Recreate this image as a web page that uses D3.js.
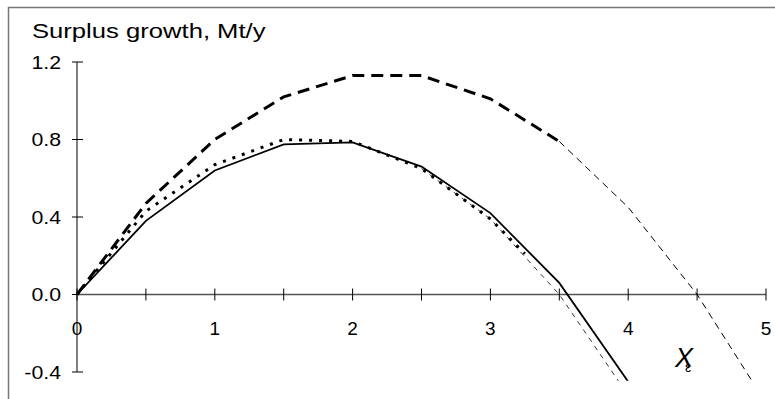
<!DOCTYPE html>
<html>
<head>
<meta charset="utf-8">
<script src="https://cdn.jsdelivr.net/npm/d3@7"></script>
<style>
  body { margin: 0; background: #fff; }
  text { font-family: Arial, "Liberation Sans", sans-serif; fill: #000; }
</style>
</head>
<body>
<div class="chart"></div>
<script>
// data
var xTicks = [0, 1, 2, 3, 4, 5];
var yTicks = [-0.4, 0.0, 0.4, 0.8, 1.2];

var solidX = [0, 0.5, 1, 1.5, 2, 2.5, 3, 3.5, 4];
var solidY = [0, 0.38, 0.64, 0.775, 0.785, 0.66, 0.42, 0.06, -0.45];

var dottedX = [0, 0.5, 1, 1.5, 2, 2.5, 3, 3.25];
var dottedY = [0, 0.43, 0.67, 0.80, 0.79, 0.65, 0.39, 0.21];

var lowTailX = [2.5, 3, 3.5, 4];
var lowTailY = [0.65, 0.39, 0.0, -0.52];

var upperX = [0, 0.5, 1, 1.5, 2, 2.5, 3, 3.5];
var upperY = [0, 0.47, 0.8, 1.02, 1.13, 1.13, 1.01, 0.79];

var upTailX = [3.5, 4, 4.5, 5];
var upTailY = [0.79, 0.45, 0.0, -0.56];

// dimensions
var W = 775, H = 399;
var x = d3.scaleLinear().domain([0, 5]).range([77, 766]);
var y = d3.scaleLinear().domain([-0.4, 1.2]).range([372, 62]);

// the original text is a bit wider than Arial
function stretch(sel, k) {
  sel.each(function() {
    var w = this.getComputedTextLength();
    d3.select(this)
      .attr("textLength", w * k)
      .attr("lengthAdjust", "spacingAndGlyphs");
  });
}

var svg = d3.select(".chart").append("svg")
  .attr("width", W)
  .attr("height", H);

// frame (only top and left visible)
svg.append("path")
  .attr("d", "M8.5," + H + "V7.5H" + W)
  .attr("fill", "none")
  .attr("stroke", "#777")
  .attr("stroke-width", 1.5);

// title
svg.append("text")
  .attr("x", 32)
  .attr("y", 38)
  .style("font-size", "21px")
  .text("Surplus growth, Mt/y")
  .call(stretch, 1.22);

// y axis
var yAxis = svg.append("g").attr("transform", "translate(" + x(0) + ",0)");
yAxis.append("line")
  .attr("y1", y(1.2)).attr("y2", y(-0.4))
  .attr("stroke", "#000");
yAxis.selectAll(".yt").data(yTicks).enter().append("line")
  .attr("x1", -5).attr("x2", 6)
  .attr("y1", function(d) { return y(d); })
  .attr("y2", function(d) { return y(d); })
  .attr("stroke", "#000");
yAxis.selectAll(".yl").data(yTicks).enter().append("text")
  .attr("x", -16)
  .attr("y", function(d) { return y(d); })
  .attr("dy", "0.36em")
  .attr("text-anchor", "end")
  .style("font-size", "19px")
  .text(function(d) { return d.toFixed(1); })
  .call(stretch, 1.12);

// x axis
var xMinor = d3.range(0, 5.01, 0.5);
var xAxis = svg.append("g").attr("transform", "translate(0," + y(0) + ")");
xAxis.append("line")
  .attr("x1", x(0)).attr("x2", x(5))
  .attr("stroke", "#555")
  .attr("stroke-width", 1.3);
xAxis.selectAll(".xt").data(xMinor).enter().append("line")
  .attr("x1", function(d) { return x(d); })
  .attr("x2", function(d) { return x(d); })
  .attr("y1", -6).attr("y2", 6)
  .attr("stroke", "#000");
xAxis.selectAll(".xl").data(xTicks).enter().append("text")
  .attr("x", function(d) { return x(d); })
  .attr("y", 40)
  .attr("text-anchor", "middle")
  .style("font-size", "19px")
  .text(function(d) { return d; });

// x label (subscript overlaps the X as in the original)
var xl = svg.append("text")
  .attr("x", 675)
  .attr("y", 367)
  .style("font-size", "27px")
  .style("font-style", "italic");
xl.append("tspan").text("X");
xl.append("tspan")
  .attr("dx", -8)
  .attr("dy", 5)
  .style("font-size", "14px")
  .style("font-style", "normal")
  .text("ε");

// clip
svg.append("clipPath").attr("id", "clip")
  .append("rect")
  .attr("x", 0).attr("y", 0)
  .attr("width", W)
  .attr("height", y(-0.445));

var line = d3.line()
  .x(function(d) { return x(d[0]); })
  .y(function(d) { return y(d[1]); });

function drawSeries(xs, ys, width, dash) {
  svg.append("path")
    .datum(d3.zip(xs, ys))
    .attr("clip-path", "url(#clip)")
    .attr("fill", "none")
    .attr("stroke", "#000")
    .attr("stroke-width", width)
    .attr("stroke-dasharray", dash)
    .attr("d", line);
}

drawSeries(lowTailX, lowTailY, 0.8, "5,5");
drawSeries(upTailX, upTailY, 1, "7,5");
drawSeries(solidX, solidY, 1.8, null);
drawSeries(dottedX, dottedY, 3, "3,7");
drawSeries(upperX, upperY, 3, "12,7");
</script>
</body>
</html>
